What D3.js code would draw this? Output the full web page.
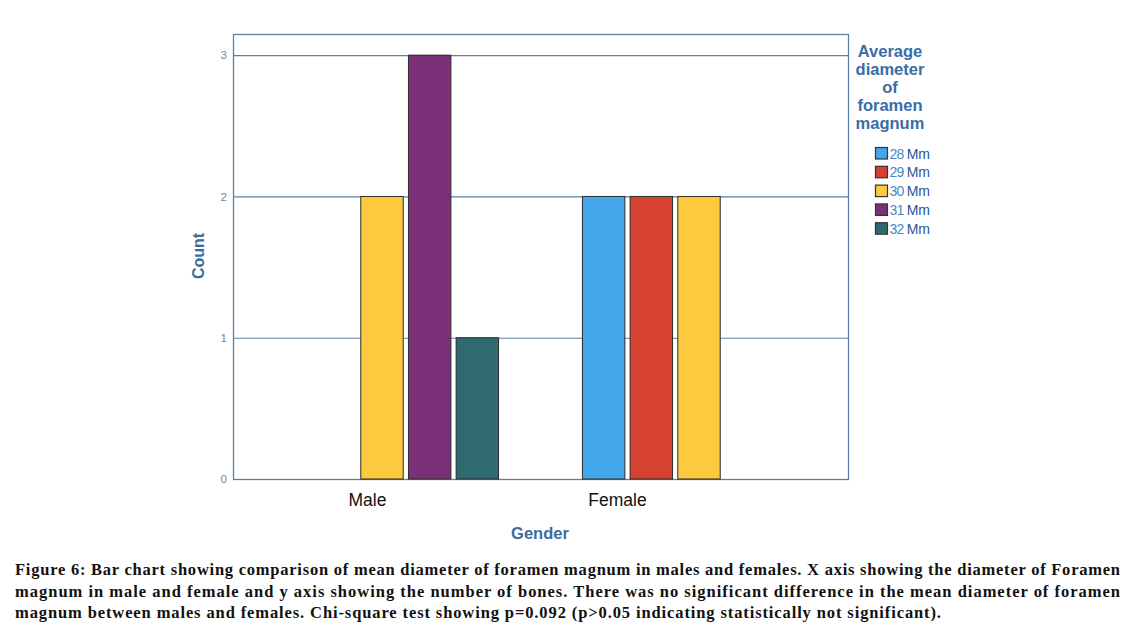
<!DOCTYPE html>
<html><head><meta charset="utf-8">
<script src="https://cdn.jsdelivr.net/npm/d3@7"></script>
<style>
html,body{margin:0;padding:0;background:#fff;}
svg{display:block;}
</style></head>
<body>
<script>
const genders = ["Male", "Female"];
const sizes = ["28 Mm", "29 Mm", "30 Mm", "31 Mm", "32 Mm"];
const sizeColors = ["#42a6ea", "#d64132", "#fdc93f", "#7b3077", "#2f6a71"];
const maleCounts = [0, 0, 2, 3, 1];
const femaleCounts = [2, 2, 2, 0, 0];
const yTicks = [0, 1, 2, 3];
const legendTitle = ["Average", "diameter", "of", "foramen", "magnum"];
const xTitle = "Gender";
const yTitle = "Count";
const caption = [
  "Figure 6: Bar chart showing comparison of mean diameter of foramen magnum in males and females. X axis showing the diameter of Foramen",
  "magnum in male and female and y axis showing the number of bones. There was no significant difference in the mean diameter of foramen",
  "magnum between males and females. Chi-square test showing p=0.092 (p>0.05 indicating statistically not significant)."
];

const W = 1138, H = 632;
const L = 233, R = 848, T = 34, B = 479;
const lineCol = "#5b80a6";
const blue = "#3c6c9e";

const svg = d3.select("body").append("svg").attr("width", W).attr("height", H);

const x0 = d3.scaleBand().domain(genders).range([L, R]).paddingInner(0.06).paddingOuter(0);
const x1 = d3.scaleBand().domain(sizes).range([0, x0.bandwidth()]).paddingInner(0.11).paddingOuter(0.68);
const y = d3.scaleLinear().domain([0, 3.15]).range([B, T]);
const labelX = d3.scalePoint().domain(genders).range([367, 617]);

// gridlines
svg.append("g").selectAll("line").data(yTicks.filter(d => d > 0)).join("line")
  .attr("x1", L).attr("x2", R).attr("y1", d => y(d) + 0.5).attr("y2", d => y(d) + 0.5)
  .attr("stroke", lineCol).attr("stroke-width", 1.2);

// frame
svg.append("rect").attr("x", L + 0.5).attr("y", T + 0.5).attr("width", R - L).attr("height", B - T)
  .attr("fill", "none").attr("stroke", lineCol).attr("stroke-width", 1.3);

// bars
const data = [];
genders.forEach((g, gi) => {
  const counts = gi === 0 ? maleCounts : femaleCounts;
  sizes.forEach((s, si) => { if (counts[si] > 0) data.push({g, s, v: counts[si], c: sizeColors[si]}); });
});
svg.append("g").selectAll("rect").data(data).join("rect")
  .attr("x", d => x0(d.g) + x1(d.s))
  .attr("y", d => y(d.v))
  .attr("width", x1.bandwidth())
  .attr("height", d => y(0) - y(d.v))
  .attr("fill", d => d.c)
  .attr("stroke", "#2b2b2b").attr("stroke-width", 1);

// y axis
const yAxis = d3.axisLeft(y).tickValues(yTicks).tickSize(0).tickPadding(6).tickFormat(d3.format("d"));
const ya = svg.append("g").attr("transform", `translate(${L},0)`).call(yAxis);
ya.select(".domain").remove();
ya.selectAll("text").attr("font-family", "Liberation Sans, Arial, sans-serif").attr("font-size", 11.5).attr("fill", "#6a88a8");

// x axis labels
const xAxis = d3.axisBottom(labelX).tickSize(0).tickPadding(15);
const xa = svg.append("g").attr("transform", `translate(0,${B})`).call(xAxis);
xa.select(".domain").remove();
xa.selectAll("text").attr("font-family", "Liberation Sans, Arial, sans-serif").attr("font-size", 17.5).attr("fill", "#111");

// axis titles
svg.append("text").attr("x", 540).attr("y", 539).attr("text-anchor", "middle")
  .attr("font-family", "Liberation Sans, Arial, sans-serif").attr("font-weight", "bold").attr("font-size", 16.5)
  .attr("fill", blue).text(xTitle);
svg.append("text").attr("transform", "translate(204,256) rotate(-90)").attr("text-anchor", "middle")
  .attr("font-family", "Liberation Sans, Arial, sans-serif").attr("font-weight", "bold").attr("font-size", 16)
  .attr("fill", blue).text(yTitle);

// legend
svg.append("g").selectAll("text").data(legendTitle).join("text")
  .attr("x", 890).attr("y", (d, i) => 57 + i * 18).attr("text-anchor", "middle")
  .attr("font-family", "Liberation Sans, Arial, sans-serif").attr("font-weight", "bold").attr("font-size", 16.5)
  .attr("fill", "#3a6ca6").text(d => d);

const ly = d3.scaleBand().domain(sizes).range([147, 233.7]).paddingInner(0.39).paddingOuter(0);
const lg = svg.append("g");
lg.selectAll("rect").data(sizes).join("rect")
  .attr("x", 875.5).attr("y", d => ly(d) + 0.5).attr("width", 12).attr("height", 11.5)
  .attr("fill", (d, i) => sizeColors[i]).attr("stroke", "#333").attr("stroke-width", 1.2);
const lt = lg.selectAll("text").data(sizes).join("text")
  .attr("x", 889.5).attr("y", d => ly(d) + 11.5)
  .attr("font-family", "Liberation Sans, Arial, sans-serif").attr("font-size", 14);
lt.append("tspan").attr("fill", "#4d86c4").attr("letter-spacing", -0.7).text(d => d.split(" ")[0]);
lt.append("tspan").attr("fill", "#27559a").attr("dx", 3).text(d => d.split(" ")[1]);

// caption
const cap = svg.append("g").selectAll("text").data(caption).join("text")
  .attr("x", 15).attr("y", (d, i) => 575 + i * 21.5)
  .attr("font-family", "Liberation Serif, Times New Roman, serif").attr("font-weight", "bold").attr("font-size", 16.5)
  .attr("fill", "#111").text(d => d);
cap.filter((d, i) => i < 2).attr("textLength", 1105).attr("lengthAdjust", "spacing");
cap.filter((d, i) => i === 2).attr("textLength", 926).attr("lengthAdjust", "spacing");
</script>
</body></html>
